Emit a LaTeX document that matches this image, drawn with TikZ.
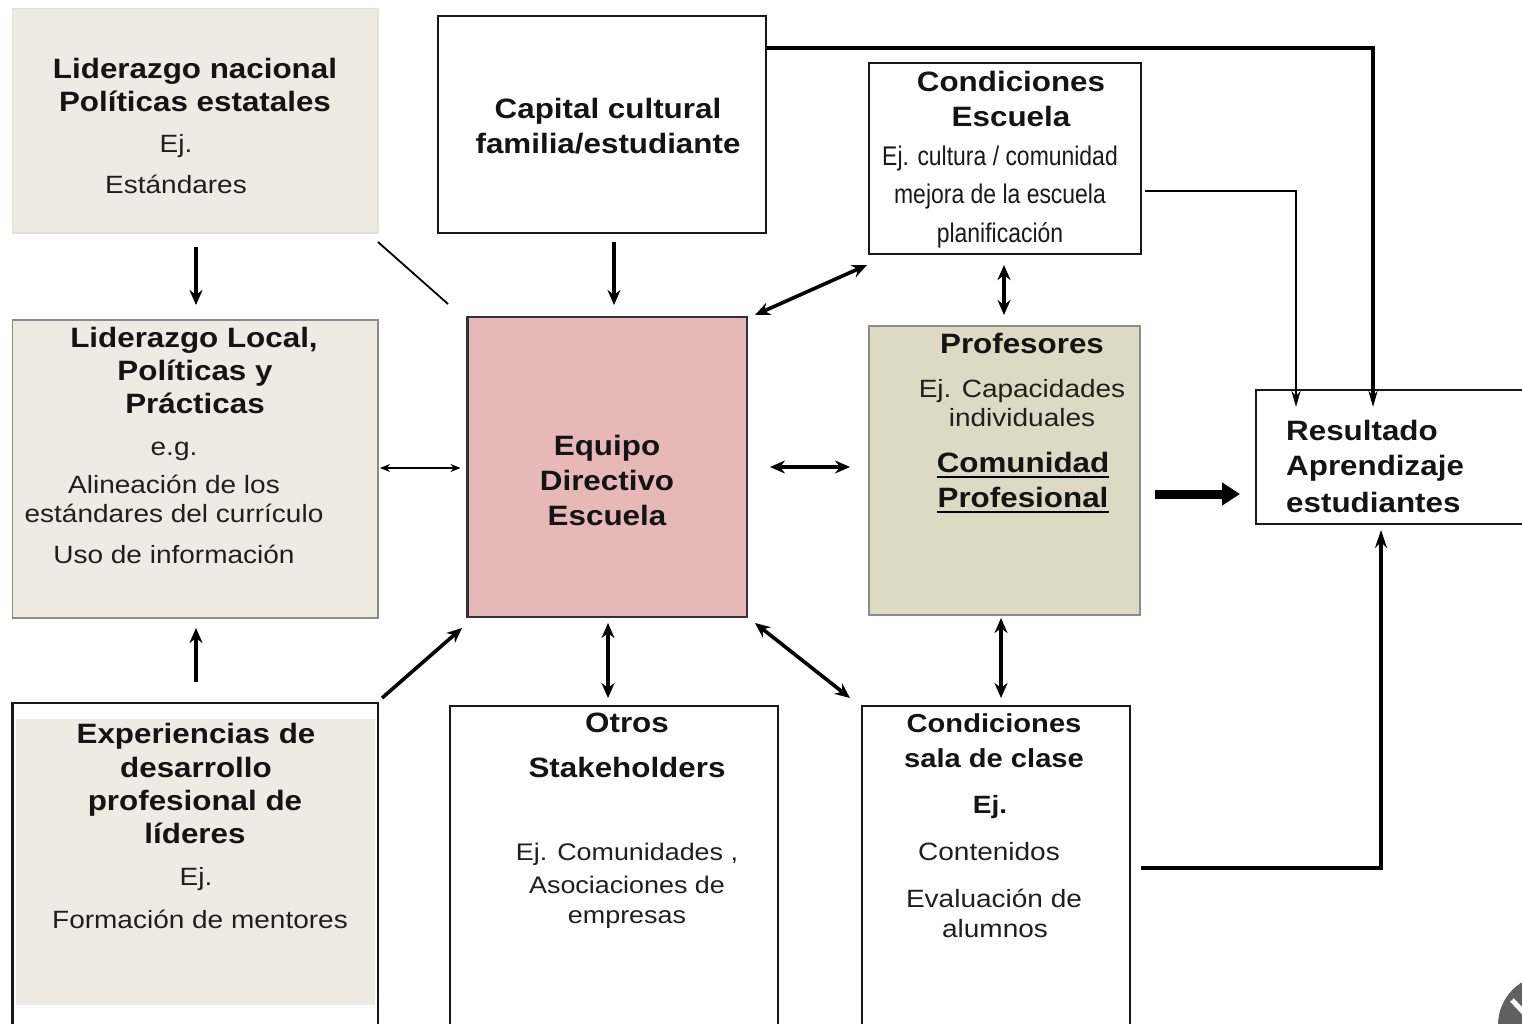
\documentclass[tikz,border=0pt]{standalone}
\usepackage{fontspec}
\setmainfont{Liberation Sans}[FakeStretch=1.12]
\newfontfamily\condf{Liberation Sans}[FakeStretch=0.85]
\usetikzlibrary{arrows.meta,calc}
\definecolor{beige}{HTML}{EEECE2}
\definecolor{tanb}{HTML}{DDD9C3}
\definecolor{pinkb}{HTML}{E6B9B8}
\begin{document}
\begin{tikzpicture}[x=1pt,y=-1pt,
  boxw/.style={draw=black!90,line width=2.4pt,fill=white,inner sep=0pt,outer sep=0pt},
  boxb/.style={draw=black!45,line width=1.4pt,fill=beige,inner sep=0pt,outer sep=0pt},
  tb/.style={anchor=base,inner sep=0pt,font=\fontsize{28}{33}\selectfont\bfseries,text=black!92},
  tbs/.style={anchor=base,inner sep=0pt,font=\fontsize{26}{30}\selectfont\bfseries,text=black!92},
  tr/.style={anchor=base,inner sep=0pt,font=\fontsize{25}{30}\selectfont,text=black!88},
  trs/.style={anchor=base,inner sep=0pt,font=\fontsize{24}{30}\selectfont,text=black!88},
  tc/.style={anchor=base,inner sep=0pt,font=\condf\fontsize{27}{30}\selectfont,text=black!90},
  arr/.style={line width=3.6pt,-{Stealth[length=15pt,width=13pt]}},
  darr/.style={line width=3.6pt,{Stealth[length=15pt,width=13pt]}-{Stealth[length=15pt,width=13pt]}},
  tarr/.style={line width=2pt,{Stealth[length=10pt,width=8pt]}-{Stealth[length=10pt,width=8pt]}},
  rarr/.style={line width=3.4pt,-{Stealth[length=16pt,width=9pt]}},
  bigarr/.style={line width=9pt,-{Triangle[length=18pt,width=22pt]}}
]
\useasboundingbox (0,0) rectangle (1522,1023);
\clip (0,0) rectangle (1522,1023);
\fill[white] (0,0) rectangle (1522,1023);

% boxes
\node[boxb,draw=black!12,minimum width=365.5pt,minimum height=224.5pt] (nac) at (195.25,120.75) {};
\node[boxw,minimum width=328pt,minimum height=217pt] (cap) at (602,124.5) {};
\node[boxw,minimum width=272pt,minimum height=191pt] (ces) at (1005,158.5) {};
\node[boxb,minimum width=365.5pt,minimum height=298pt] (loc) at (195.25,469) {};
\node[boxw,draw=black!80,fill=pinkb,line width=2.2pt,minimum width=279.5pt,minimum height=300pt] (equ) at (607.25,467) {};
\node[boxb,fill=tanb,draw=black!45,minimum width=271pt,minimum height=289pt] (prof) at (1004.5,470.5) {};
\node[boxw,minimum width=274pt,minimum height=134pt] (res) at (1393,457) {};
\node[boxw,minimum width=365.5pt,minimum height=337pt] (exp) at (195.25,871.5) {};
\fill[beige] (15.5,719) rectangle (375,1005);
\node[boxw,minimum width=328pt,minimum height=334pt] (otr) at (614,873) {};
\node[boxw,minimum width=268pt,minimum height=334pt] (sal) at (996,873) {};

% texts: Liderazgo nacional
\node[tb] (nac1) at (195,78) {Liderazgo nacional};
\node[tb] (nac2) at (195,111) {Políticas estatales};
\node[tr] (nac3) at (176,152) {Ej.};
\node[tr] (nac4) at (176,193) {Estándares};
% Capital cultural
\node[tb] (cap1) at (608,118) {Capital cultural};
\node[tb] (cap2) at (608,153) {familia/estudiante};
% Condiciones Escuela
\node[tb] (ces1) at (1011,91) {Condiciones};
\node[tb] (ces2) at (1011,126) {Escuela};
\node[tc] (ces3) at (1000,165) {Ej. cultura / comunidad};
\node[tc] (ces4) at (1000,203) {mejora de la escuela};
\node[tc] (ces5) at (1000,242) {planificación};
% Liderazgo Local
\node[tb] (loc1) at (194,347) {Liderazgo Local,};
\node[tb] (loc2) at (195,380) {Políticas y};
\node[tb] (loc3) at (195,413) {Prácticas};
\node[tr] (loc4) at (174,455) {e.g.};
\node[tr] (loc5) at (174,493) {Alineación de los};
\node[tr] (loc6) at (174,522) {estándares del currículo};
\node[tr] (loc7) at (174,563) {Uso de información};
% Equipo Directivo
\node[tb] (equ1) at (607,455) {Equipo};
\node[tb] (equ2) at (607,490) {Directivo};
\node[tb] (equ3) at (607,525) {Escuela};
% Profesores
\node[tb] (pro1) at (1022,353) {Profesores};
\node[tr] (pro2) at (1022,397) {Ej. Capacidades};
\node[tr] (pro3) at (1022,426) {individuales};
\node[tb] (com) at (1023,472) {Comunidad};
\node[tb] (pfl) at (1023,507) {Profesional};
\draw[line width=2.2pt] ($(com.base west)+(0,5)$) -- ($(com.base east)+(0,5)$);
\draw[line width=2.2pt] ($(pfl.base west)+(0,5)$) -- ($(pfl.base east)+(0,5)$);
% Resultado
\node[tb,anchor=base west] (res1) at (1286,440) {Resultado};
\node[tb,anchor=base west] (res2) at (1286,475) {Aprendizaje};
\node[tb,anchor=base west] (res3) at (1286,512) {estudiantes};
% Experiencias
\node[tb] (exp1) at (196,743) {Experiencias de};
\node[tb] (exp2) at (196,777) {desarrollo};
\node[tb] (exp3) at (195,810) {profesional de};
\node[tb] (exp4) at (195,843) {líderes};
\node[tr] (exp5) at (196,885) {Ej.};
\node[tr] (exp6) at (200,928) {Formación de mentores};
% Otros
\node[tb] (otr1) at (627,732) {Otros};
\node[tb] (otr2) at (627,777) {Stakeholders};
\node[trs] (otr3) at (627,860) {Ej. Comunidades\ ,};
\node[trs] (otr4) at (627,893) {Asociaciones de};
\node[trs] (otr5) at (627,923) {empresas};
% Condiciones sala
\node[tbs] (sal1) at (994,732) {Condiciones};
\node[tbs] (sal2) at (994,767) {sala de clase};
\node[tbs,font=\fontsize{25}{30}\selectfont\bfseries] (sal3) at (990,813) {Ej.};
\node[tr] (sal4) at (989,860) {Contenidos};
\node[tr] (sal5) at (994,907) {Evaluación de};
\node[tr] (sal6) at (995,937) {alumnos};

% connectors
\draw[arr] ($(nac.south)+(0.75,14)$) -- ($(loc.north)+(0.75,-15)$);
\draw[arr] ($(exp.north)+(0.75,-21)$) -- ($(loc.south)+(0.75,10)$);
\draw[line width=1.8pt] ($(nac.south east)+(0,9)$) -- ($(equ.north west)+(-19.5,-13)$);
\draw[tarr] ($(loc.east)+(2,-1)$) -- ($(equ.west)+(-7,1)$);
\draw[arr] ($(exp.north east)+(4,-5)$) -- ($(equ.south west)+(-5.5,11)$);
\draw[arr] ($(cap.south)+(12,9)$) -- ($(equ.north)+(6.75,-12)$);
\draw[darr] ($(equ.north east)+(8,-2)$) -- ($(ces.south west)+(-2,11)$);
\draw[darr] ($(ces.south)+(-1,11)$) -- ($(prof.north)+(-0.5,-11)$);
\draw[darr] ($(equ.east)+(23,0)$) -- ($(prof.west)+(-19,-3.5)$);
\draw[darr] ($(equ.south)+(0.75,6)$) -- ($(otr.north)+(-6,-8)$);
\draw[darr] ($(equ.south east)+(8,6)$) -- ($(sal.north west)+(-12,-8)$);
\draw[darr] ($(prof.south)+(-3.5,3)$) -- ($(sal.north)+(5,-8)$);
\draw[bigarr] ($(prof.east)+(15,23.5)$) -- ($(res.west)+(-16,37)$);
\draw[rarr] ($(cap.north east)+(0,32)$) -| ($(res.north west)+(117,17)$);
\draw[rarr,line width=2.8pt] ($(ces.east)+(4,32.5)$) -| ($(res.north west)+(40,17)$);
\draw[rarr,-{Stealth[length=18pt,width=12pt]}] ($(sal.east)+(11,-5)$) -| ($(res.south west)+(125,6)$);

% corner overlay
\fill[black!62] (1548,1025) circle (50);
\draw[white,line width=5pt] (1512,1000) -- (1527,1016);
\end{tikzpicture}
\end{document}
